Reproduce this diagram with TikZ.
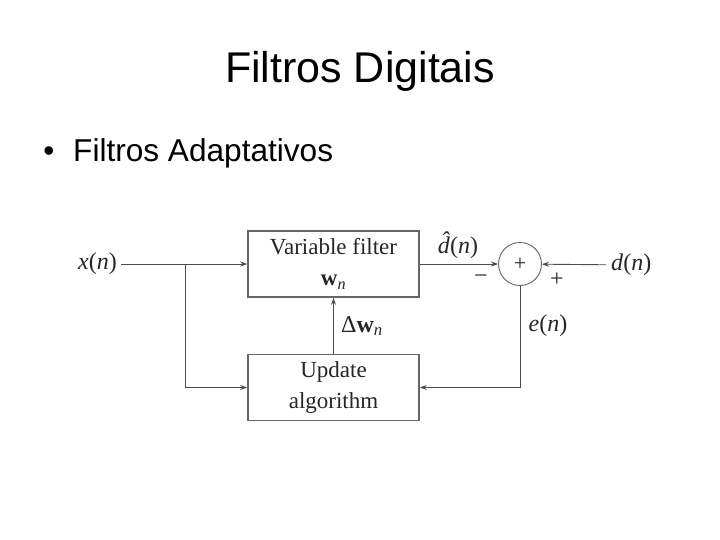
\documentclass[tikz,border=0pt]{standalone}
\usepackage{fontspec}
\setmainfont{Liberation Sans}
\newfontfamily\diagfont{Liberation Serif}
\usetikzlibrary{arrows.meta,positioning}

\newcommand{\dhat}{\makebox[0pt][l]{\hspace{0.12em}\raisebox{0.2em}{\textit{ˆ}}}\textit{d}}

\tikzset{
  block/.style={draw=black!60, line width=1.6pt, minimum width=171pt, minimum height=66pt,
    inner sep=0pt, align=center, font=\diagfont\fontsize{23}{31}\selectfont, text=black!85},
  sig/.style={draw=black!70, line width=0.9pt, -{Stealth[length=7pt,width=5pt]}},
  lbl/.style={font=\diagfont\fontsize{24}{28}\selectfont, inner sep=0pt, text=black!85},
}

\begin{document}
\begin{tikzpicture}[x=1pt,y=-1pt]
  \useasboundingbox (0,0) rectangle (720,540);
  % slide text
  \node (title) [anchor=base] at (360,83) {\fontsize{43}{50}\selectfont Filtros Digitais};
  \node (bullet) [anchor=base, inner sep=0pt] at (49,162) {\fontsize{31.6}{36}\selectfont\textbullet};
  \node (item) [anchor=base west, inner sep=0pt] at (73,162) {\fontsize{31.6}{36}\selectfont Filtros Adaptativos};

  % blocks
  \node (filter) [block] at (333.5,264) {Variable filter\\ \textbf{w}\textsubscript{\textit{n}}};
  \node (update) [block] at (333.5,387.5) {Update\\algorithm};
  \node (sum) [circle, draw=black!60, line width=0.9pt, minimum size=43pt, inner sep=0pt,
    font=\diagfont\fontsize{22}{24}\selectfont, text=black!85] at (520,264) {+};

  % signals
  \node (xin) [lbl, inner sep=4pt, anchor=east] at (121,264) {\textit{x}(\textit{n})};
  \node (dn) [lbl, inner sep=5pt, anchor=west] at (606,265) {\textit{d}(\textit{n})};
  \coordinate (split) at (185,264);

  \draw [sig] (xin) -- (filter);
  \draw [sig] (split) |- (update);
  \draw [sig] (filter) -- (sum);
  \draw [sig] (dn) -- (sum);
  \draw [sig] (sum) |- (update);
  \draw [sig] (update) -- (filter);

  % labels
  \node (dhatn) [lbl] at (458,245) {\dhat(\textit{n})};
  \node (minus) [lbl] at (481,279) {−};
  \node (plus) [lbl] at (557,280) {+};
  \node (err) [lbl] at (548,326) {\textit{e}(\textit{n})};
  \node (dw) [lbl] at (362,326) {Δ\textbf{w}\textsubscript{\textit{n}}};
\end{tikzpicture}
\end{document}
